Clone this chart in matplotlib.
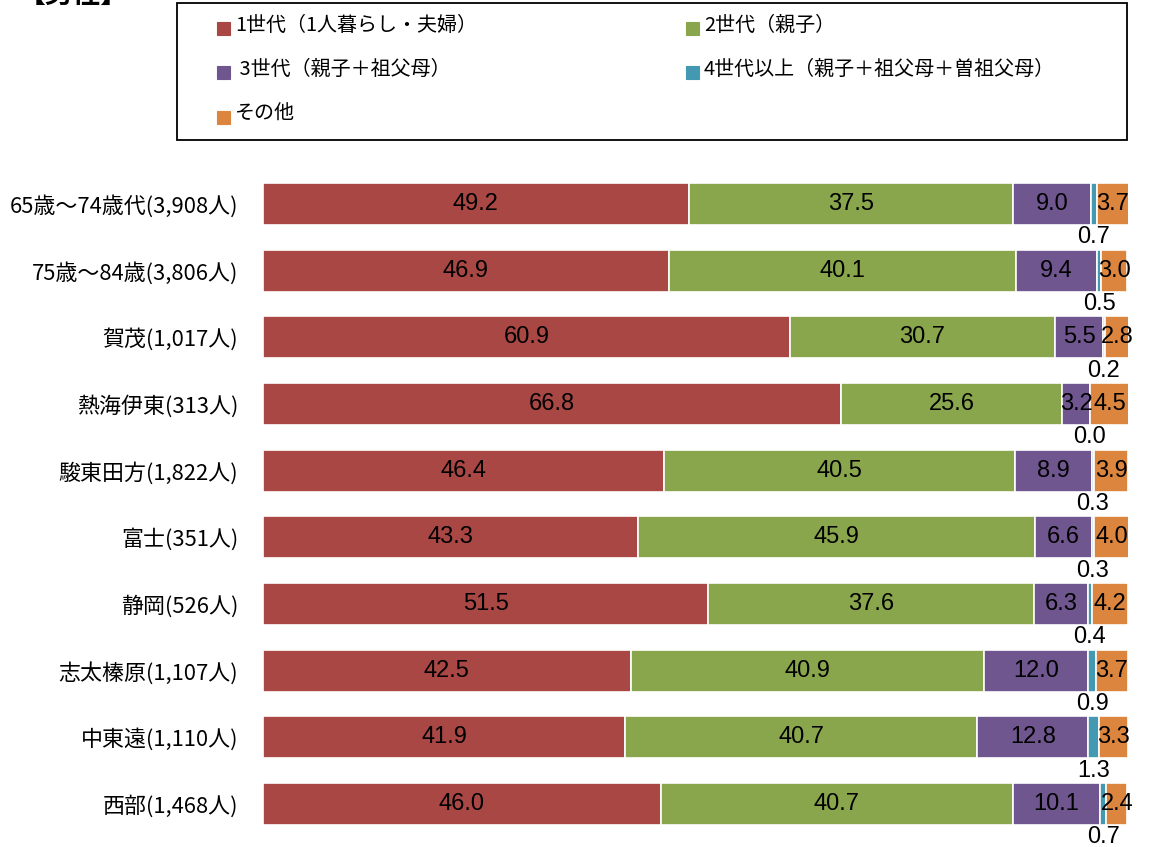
import numpy as np
import matplotlib
matplotlib.use("Agg")
import matplotlib.pyplot as plt
from matplotlib.patches import Rectangle

plt.rcParams['font.family'] = ['Noto Sans CJK JP', 'DejaVu Sans']

# データ（%）
categories = ["65歳～74歳代(3,908人)", "75歳～84歳(3,806人)", "賀茂(1,017人)",
              "熱海伊東(313人)", "駿東田方(1,822人)", "富士(351人)", "静岡(526人)",
              "志太榛原(1,107人)", "中東遠(1,110人)", "西部(1,468人)"]
gen1 = [49.2, 46.9, 60.9, 66.8, 46.4, 43.3, 51.5, 42.5, 41.9, 46.0]
gen2 = [37.5, 40.1, 30.7, 25.6, 40.5, 45.9, 37.6, 40.9, 40.7, 40.7]
gen3 = [9.0, 9.4, 5.5, 3.2, 8.9, 6.6, 6.3, 12.0, 12.8, 10.1]
gen4 = [0.7, 0.5, 0.2, 0.0, 0.3, 0.3, 0.4, 0.9, 1.3, 0.7]
other = [3.7, 3.0, 2.8, 4.5, 3.9, 4.0, 4.2, 3.7, 3.3, 2.4]

series_names = ["1世代（1人暮らし・夫婦）", "2世代（親子）", " 3世代（親子＋祖父母）",
                "4世代以上（親子＋祖父母＋曽祖父母）", "その他"]
colors = ["#A94745", "#8AA64C", "#6F568F", "#4399B1", "#DC853E"]

W, H = 1160, 847
fig = plt.figure(figsize=(W / 100, H / 100), dpi=100)

# 棒グラフ領域
ax_top = 170.7
ax_bot = 837.3
ax = fig.add_axes([263 / W, 1 - ax_bot / H, 865 / W, (ax_bot - ax_top) / H])

series = [gen1, gen2, gen3, gen4, other]
y = np.arange(len(categories))
left = np.zeros(len(categories))
num_font = ['Liberation Sans', 'DejaVu Sans']
for k, vals in enumerate(series):
    vals = np.array(vals)
    ax.barh(y, vals, left=left, height=0.63, color=colors[k],
            edgecolor="white", linewidth=1.2)
    for i, v in enumerate(vals):
        cx = left[i] + v / 2
        if k == 3:
            # 4世代は棒の下に表示
            ax.text(cx, y[i] + 0.5, f"{v:.1f}", ha="center", va="center",
                    fontsize=17, family=num_font)
        else:
            ax.text(cx, y[i], f"{v:.1f}", ha="center", va="center",
                    fontsize=17, family=num_font)
    left = left + vals

ax.set_xlim(0, 100)
ax.set_ylim(len(categories) - 0.5, -0.5)
ax.set_yticks(y)
ax.set_yticklabels(categories, fontsize=15.8)
ax.tick_params(axis="y", length=0, pad=18)
ax.set_xticks([])
for s in ax.spines.values():
    s.set_visible(False)

# 凡例（枠つき）
fig.add_artist(Rectangle((177 / W, 1 - 140 / H), (1127 - 177) / W, 137 / H,
                         transform=fig.transFigure, fill=False,
                         edgecolor="black", linewidth=1.3))
legend_pos = [(217, 25), (686, 25), (217, 69), (686, 69), (217, 114)]
for k, (px, py) in enumerate(legend_pos):
    fig.add_artist(Rectangle((px / W, 1 - (py + 10) / H), 13 / W, 13 / H,
                             transform=fig.transFigure, facecolor=colors[k],
                             edgecolor=colors[k], linewidth=0.8))
    fig.text((px + 18) / W, 1 - py / H, series_names[k], fontsize=14.4,
             ha="left", va="center")

# タイトル（上端で切れている）
fig.text(18 / W, 1 - 9 / H, "【男性】", fontsize=20, fontweight="bold",
         ha="left", va="bottom")

fig.savefig("out.png", dpi=100)
